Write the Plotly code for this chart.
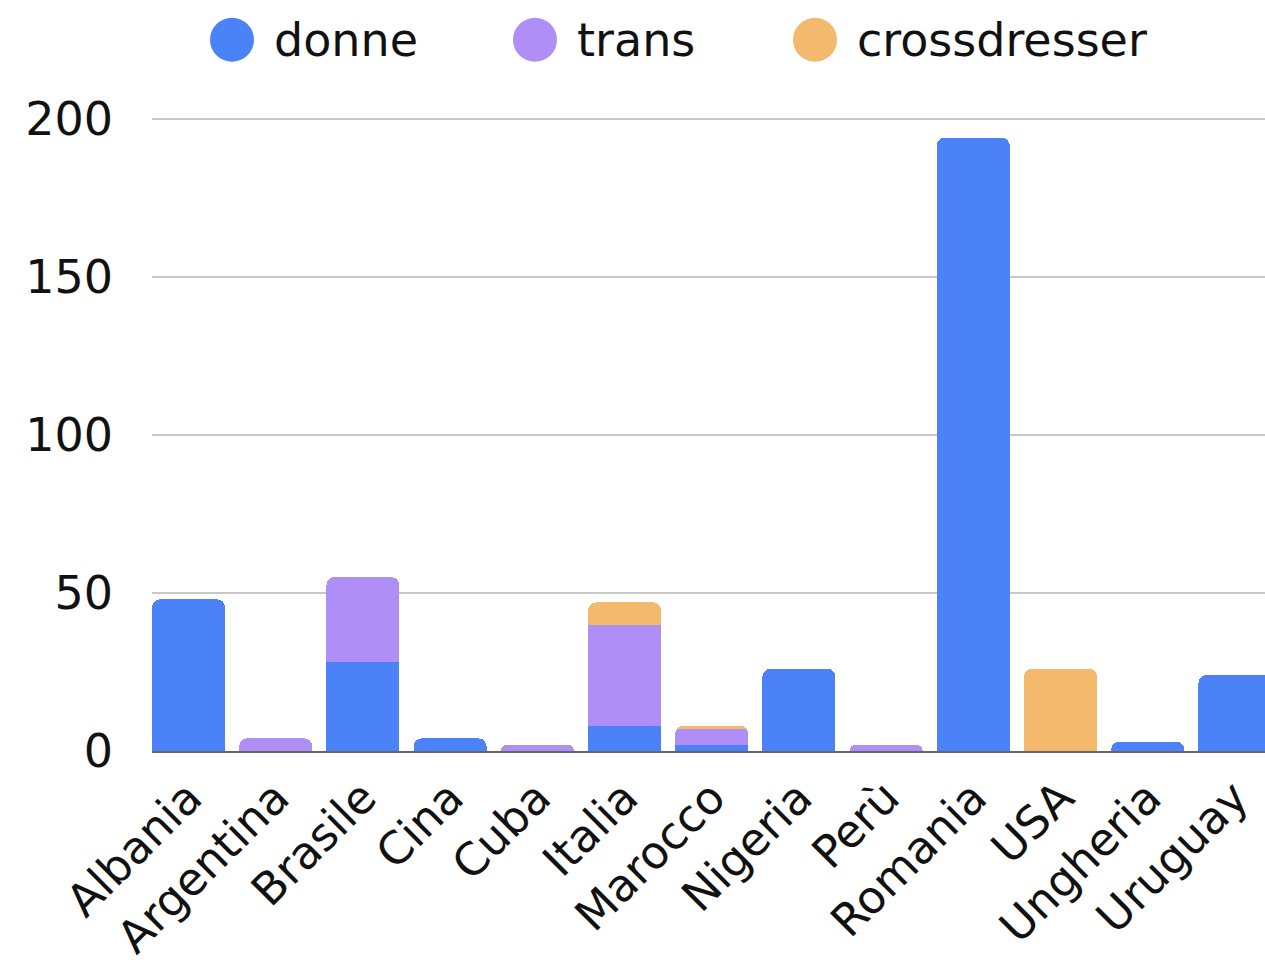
import plotly.graph_objects as go

categories = ["Albania", "Argentina", "Brasile", "Cina", "Cuba", "Italia", "Marocco",
              "Nigeria", "Perù", "Romania", "USA", "Ungheria", "Uruguay"]
donne = [48, 0, 28, 4, 0, 8, 2, 26, 0, 194, 0, 3, 24]
trans = [0, 4, 27, 0, 2, 32, 5, 0, 2, 0, 0, 0, 0]
crossdresser = [0, 0, 0, 0, 0, 7, 1, 0, 0, 0, 26, 0, 0]
series_names = ["donne", "trans", "crossdresser"]
colors = ["#4C82F7", "#AF8EF5", "#F3B96C"]
y_ticks = [0, 50, 100, 150, 200]

FONT = "DejaVu Sans"
W, H = 1265, 974
L, R = 152, 0
Y0_PX, Y200_PX = 751, 119
unit = (Y0_PX - Y200_PX) / 200.0
YMAX = 201.5
TOP = Y0_PX - YMAX * unit
BOT = H - Y0_PX
plot_h = Y0_PX - TOP

fig = go.Figure()
for name, vals, col in zip(series_names, [donne, trans, crossdresser], colors):
    fig.add_trace(go.Bar(x=categories, y=vals, name=name, marker_color=col,
                         marker_line_width=0, showlegend=False))

# custom legend with circles
legend_x = [232, 535, 815]
ly = 1 + (TOP - 40) / plot_h
for name, col, cx in zip(series_names, colors, legend_x):
    fig.add_shape(type="circle", xref="paper", yref="paper",
                  xsizemode="pixel", ysizemode="pixel",
                  xanchor=(cx - L) / (W - L - R), yanchor=ly,
                  x0=-22, x1=22, y0=-22, y1=22,
                  fillcolor=col, line_width=0)
    fig.add_annotation(text=name, xref="paper", yref="paper",
                       x=(cx + 40 - L) / (W - L - R), y=ly,
                       xanchor="left", yanchor="middle", showarrow=False,
                       font=dict(family=FONT, size=46, color="#111"))

fig.update_layout(
    width=W, height=H,
    barmode="stack", bargap=0.163, barcornerradius=8,
    margin=dict(l=L, r=R, t=TOP, b=BOT, autoexpand=False),
    plot_bgcolor="white", paper_bgcolor="white",
    font=dict(family=FONT, size=44, color="#111"),
    xaxis=dict(tickangle=-45, showline=True, linecolor="#666", linewidth=2,
               tickfont=dict(size=45), ticks="", range=[-0.419, 12.345]),
    yaxis=dict(range=[0, YMAX], tickvals=y_ticks, showgrid=True, gridcolor="#c8c8c8",
               gridwidth=1.5, zeroline=False, tickfont=dict(size=46),
               ticklabelstandoff=38),
)
fig.write_html("out.html", config={"displayModeBar": False})

with open("out.html", "r", encoding="utf-8") as f:
    html = f.read()
html = html.replace("<body>", "<body style=\"margin:0;padding:0\">", 1)
with open("out.html", "w", encoding="utf-8") as f:
    f.write(html)
